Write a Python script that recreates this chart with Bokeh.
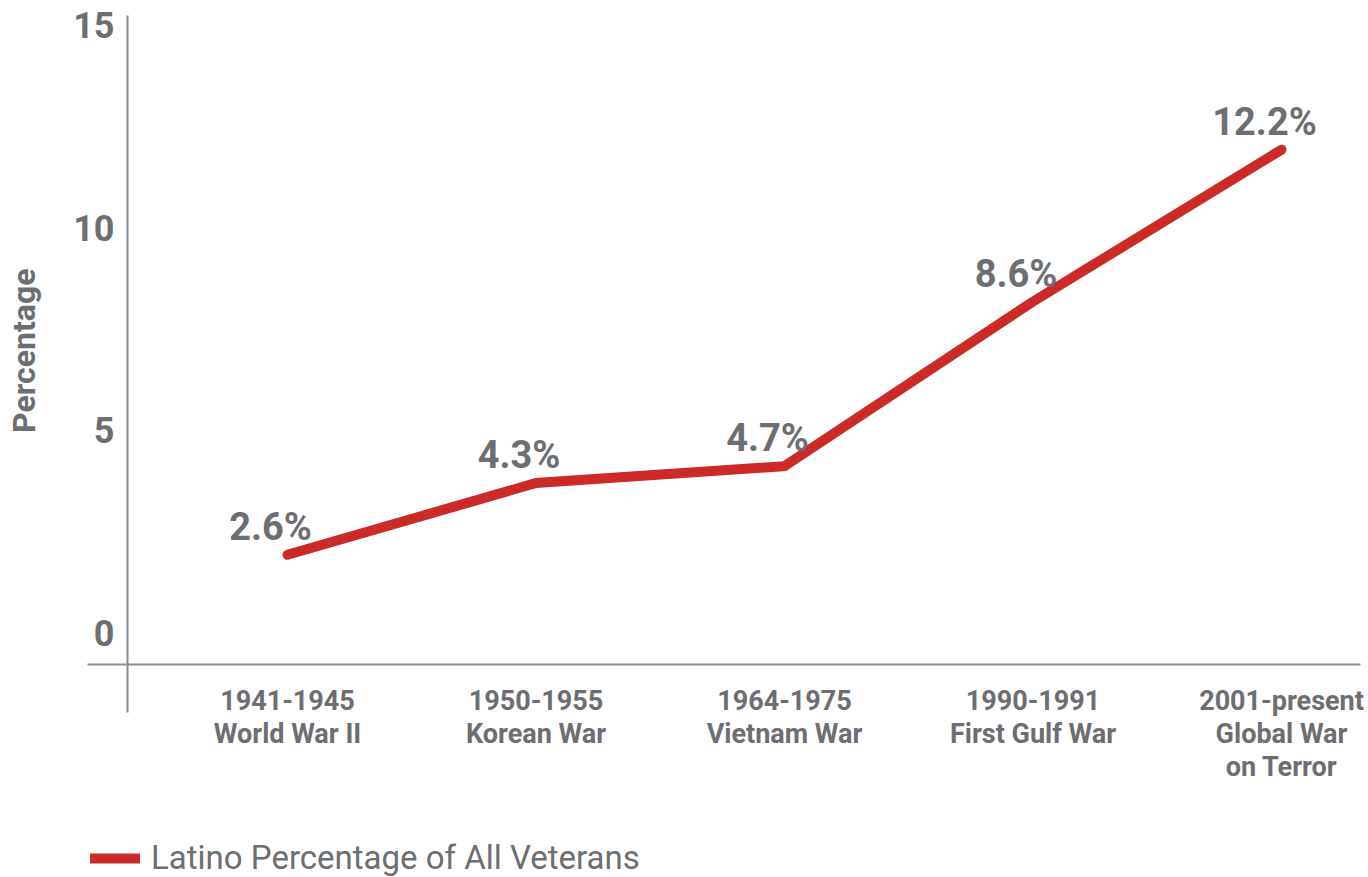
from bokeh.plotting import figure
from bokeh.models import Range1d, LinearAxis, FixedTicker, Legend, LegendItem, ColumnDataSource, Title
from bokeh.core.properties import value
from bokeh.embed import file_html
from bokeh.resources import INLINE

# ---- data ----
periods = ["1941-1945", "1950-1955", "1964-1975", "1990-1991", "2001-present"]
wars = ["World War II", "Korean War", "Vietnam War", "First Gulf War", "Global War\non Terror"]
latino_pct = [2.6, 4.3, 4.7, 8.6, 12.2]
y_ticks = [0, 5, 10, 15]
series_name = "Latino Percentage of All Veterans"
y_title = "Percentage"

TEXT = "#6d6e71"
AXIS = "#8a8b8e"
RED = "#cc2a27"
FONT = "Roboto"

xs = list(range(1, len(periods) + 1))
src = ColumnDataSource(dict(x=xs, y=latino_pct, lab=[f"{v}%" for v in latino_pct]))

# ranges (frame covers the whole drawing area)
X0, X1 = 0.0181, 5.342          # x data range
X_AXIS_START, X_AXIS_END = 0.1952, 5.318   # extent of the horizontal axis line
X_VLINE = 0.3561                # where the vertical axis sits
Y0, Y1 = -5.047, 15.735         # data y range
AX0, AX1 = -6.054, 15.617       # tick-label range of the y axis
AX_LINE_BOTTOM, AX_LINE_TOP = -1.977, 15.246   # extent of the vertical axis line

p = figure(width=1368, height=877, output_backend="svg", toolbar_location=None,
           x_range=Range1d(X0, X1), y_range=Range1d(Y0, Y1),
           min_border_left=43, min_border_right=2, min_border_top=0, min_border_bottom=0,
           x_axis_location=None, y_axis_location=None)
p.outline_line_color = None
p.background_fill_color = "white"
p.grid.visible = False
p.extra_y_ranges = {"ax": Range1d(AX0, AX1)}

# y axis title
p.add_layout(Title(text=y_title, align="right", offset=268, standoff=2,
                   text_font=FONT, text_font_style="bold", text_font_size="32px",
                   text_color=TEXT), "left")

# vertical axis with its tick labels
yaxis = LinearAxis(y_range_name="ax", fixed_location=X_VLINE,
                   ticker=FixedTicker(ticks=y_ticks), bounds=(AX_LINE_BOTTOM, AX_LINE_TOP))
yaxis.axis_line_color = AXIS
yaxis.axis_line_width = 2
yaxis.major_tick_line_color = None
yaxis.minor_tick_line_color = None
yaxis.major_tick_out = 0
yaxis.major_tick_in = 0
yaxis.major_label_standoff = 13
yaxis.major_label_text_font = FONT
yaxis.major_label_text_font_style = "bold"
yaxis.major_label_text_font_size = "36px"
yaxis.major_label_text_color = TEXT
p.add_layout(yaxis, "left")

# horizontal axis with category labels
xaxis = LinearAxis(fixed_location=0, ticker=FixedTicker(ticks=xs),
                   bounds=(X_AXIS_START, X_AXIS_END),
                   major_label_overrides={x: f"{periods[i]}\n{wars[i]}" for i, x in enumerate(xs)})
xaxis.axis_line_color = AXIS
xaxis.axis_line_width = 2
xaxis.major_tick_line_color = None
xaxis.minor_tick_line_color = None
xaxis.major_tick_out = 0
xaxis.major_tick_in = 0
xaxis.major_label_standoff = 20
xaxis.major_label_text_font = FONT
xaxis.major_label_text_font_style = "bold"
xaxis.major_label_text_font_size = "27px"
xaxis.major_label_text_color = TEXT
xaxis.major_label_text_line_height = 1.04
p.add_layout(xaxis, "below")

line = p.line("x", "y", source=src, line_color=RED, line_width=10,
              line_cap="round", line_join="miter")

p.text("x", "y", text="lab", source=src, x_offset=-17, y_offset=-28,
       text_align="center", text_baseline="alphabetic",
       text_font=value(FONT), text_font_style="bold", text_font_size="38px",
       text_color=TEXT)

legend = Legend(items=[LegendItem(label=series_name, renderers=[line])],
                location=(47, 0), orientation="horizontal",
                padding=0, margin=0, spacing=0,
                glyph_width=50, glyph_height=32, label_height=32, label_standoff=11,
                label_text_font=FONT, label_text_font_size="33px",
                label_text_color=TEXT,
                border_line_color=None, background_fill_alpha=0)
p.add_layout(legend, "center")

open("out.html", "w").write(file_html(p, INLINE))
